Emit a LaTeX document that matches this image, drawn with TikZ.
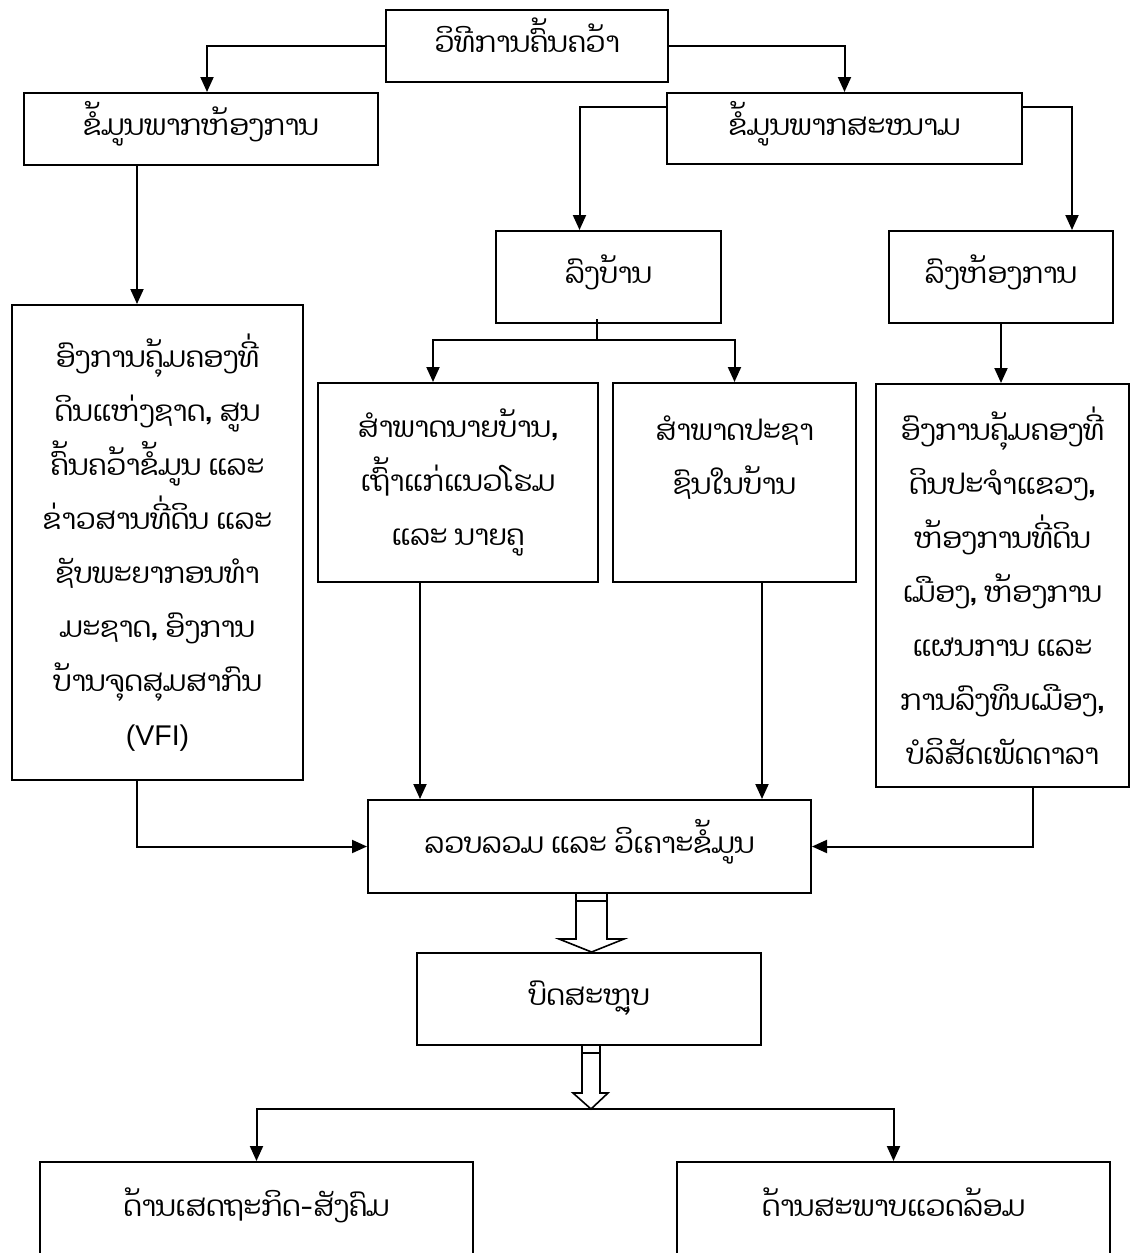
\documentclass[tikz,border=0pt]{standalone}
\usepackage{fontspec}
\setmainfont{Liberation Sans}
\newfontfamily\laofont[Script=Lao]{Dhyana}
\usetikzlibrary{positioning, arrows.meta, calc}

\tikzset{
  box/.style={draw, line width=2pt, align=center, inner sep=0pt,
    font=\laofont\fontsize{28.5}{54}\selectfont},
  onebox/.style={box, text height=21pt, text depth=8pt},
  link/.style={line width=2pt, -{Triangle[length=15pt,width=13pt]}},
  wire/.style={line width=2pt},
  hollow/.style={draw, line width=1.6pt, fill=white, line join=miter},
}

\begin{document}
\begin{tikzpicture}[x=1pt, y=-1pt]
  % 枠
  \useasboundingbox (0,0) rectangle (1130,1253);
  \clip (0,0) rectangle (1130,1253);

  % ボックス
  \node[onebox, minimum width=282pt, minimum height=72pt] (method) at (527,46) {ວິທີການຄົ້ນຄວ້າ};
  \node[onebox, minimum width=354pt, minimum height=72pt] (lab) at (201,129) {ຂໍ້ມູນພາກຫ້ອງການ};
  \node[onebox, minimum width=355pt, minimum height=71pt] (field) at (844.5,128.5) {ຂໍ້ມູນພາກສະໜາມ};
  \node[onebox, minimum width=225pt, minimum height=92pt] (village) at (608.5,277) {ລົງບ້ານ};
  \node[onebox, minimum width=224pt, minimum height=92pt] (office) at (1001,277) {ລົງຫ້ອງການ};
  \node[box, minimum width=291pt, minimum height=475pt] (ltall) at (157.5,542.5)
    {ອົງການຄຸ້ມຄອງທີ່\\ ດິນແຫ່ງຊາດ, ສູນ\\ ຄົ້ນຄວ້າຂໍ້ມູນ ແລະ\\ ຂ່າວສານທີ່ດິນ ແລະ\\
     ຊັບພະຍາກອນທຳ\\ ມະຊາດ, ອົງການ\\ ບ້ານຈຸດສຸມສາກົນ\\ {\normalfont (VFI)}};
  \node[box, minimum width=280pt, minimum height=199pt] (headman) at (458,482.5)
    {ສຳພາດນາຍບ້ານ,\\ ເຖົ້າແກ່ແນວໂຮມ\\ ແລະ ນາຍຄູ};
  \node[box, minimum width=243pt, minimum height=199pt] (people) at (734.5,482.5)
    {ສຳພາດປະຊາ\\ ຊົນໃນບ້ານ\\ \mbox{}};
  \node[box, minimum width=253pt, minimum height=403pt] (rtall) at (1002.5,585.5)
    {ອົງການຄຸ້ມຄອງທີ່\\ ດິນປະຈຳແຂວງ,\\ ຫ້ອງການທີ່ດິນ\\ ເມືອງ, ຫ້ອງການ\\
     ແຜນການ ແລະ\\ ການລົງທຶນເມືອງ,\\ ບໍລິສັດເພັດດາລາ};
  \node[onebox, minimum width=443pt, minimum height=93pt] (collect) at (589.5,846.5) {ລວບລວມ ແລະ ວິເຄາະຂໍ້ມູນ};
  \node[onebox, minimum width=344pt, minimum height=92pt] (concl) at (589,999) {ບົດສະຫຼຸບ};
  \node[box, anchor=north, minimum width=433pt, text height=54pt, text depth=100pt] (econ) at (256.5,1161) {ດ້ານເສດຖະກິດ-ສັງຄົມ};
  \node[box, anchor=north, minimum width=433pt, text height=54pt, text depth=100pt] (env) at (893.5,1161) {ດ້ານສະພາບແວດລ້ອມ};

  % 矢印
  \draw[link] (method.west) -| ($(lab.north)+(6,0)$);
  \draw[link] (method.east) -| (field.north);
  \draw[link] ($(field.north west)+(0,15)$) -| ($(village.north)+(-29,0)$);
  \draw[link] ($(field.north east)+(0,15)$) -| ($(office.north)+(71,0)$);
  \draw[link] ($(lab.south west)+(114,0)$) -- ($(ltall.north west)+(126,0)$);

  \coordinate (vsplit) at ($(village.south)+(-12,16)$);
  \draw[wire] ($(village.south)+(-12,-5)$) -- (vsplit);
  \draw[link] (vsplit) -| ($(headman.north)+(-25,0)$);
  \draw[link] (vsplit) -| (people.north);
  \draw[link] (office.south) -- (office.south |- rtall.north);

  \draw[link] ($(headman.south)+(-38,0)$) coordinate (h1) -- (h1 |- collect.north);
  \draw[link] ($(people.south)+(27.5,0)$) coordinate (p1) -- (p1 |- collect.north);
  \draw[link] ($(ltall.south west)+(126,0)$) |- (collect.west);
  \draw[link] ($(rtall.south west)+(158,0)$) |- (collect.east);

  \coordinate (csplit) at ($(concl.south)+(2,63)$);
  \draw[link] (csplit) -| (econ.north);
  \draw[link] (csplit) -| (env.north);

  % 白抜き矢印
  \draw[hollow] ($(collect.south)+(-13.5,0)$) -- ++(0,45) -- ++(-17,0)
    -- ($(concl.north)+(2.5,0)$) -- ($(collect.south)+(34.5,45)$) -- ++(-17,0) -- ++(0,-45);
  \draw[hollow] ($(collect.south)+(-13.5,7)$) -- ++(31,0);
  \draw[hollow] ($(concl.south)+(-7,0)$) -- ++(0,47) -- ++(-9,0)
    -- (csplit) -- ($(concl.south)+(19,47)$) -- ++(-8,0) -- ++(0,-47);
  \draw[hollow] ($(concl.south)+(-7,7)$) -- ++(18,0);
\end{tikzpicture}
\end{document}
